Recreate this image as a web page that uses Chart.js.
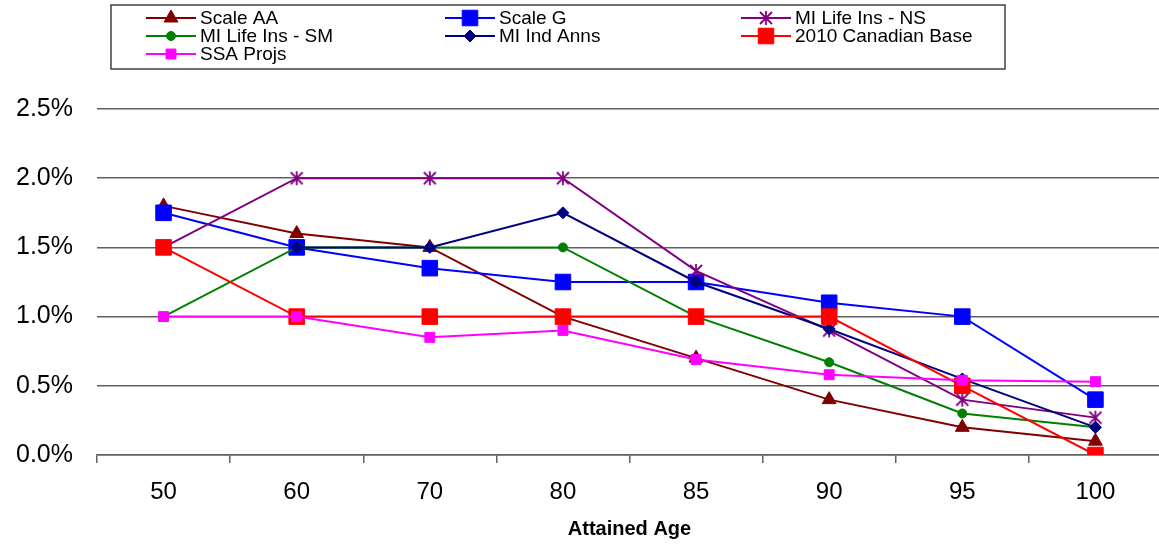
<!DOCTYPE html>
<html lang="en">
<head>
    <meta charset="UTF-8">
    <title>Mortality Improvement by Attained Age</title>
    <script src="https://cdn.jsdelivr.net/npm/chart.js"></script>
    <style>
        html, body {
            margin: 0;
            padding: 0;
            background: #fff;
            overflow: hidden;
        }
        #wrap {
            width: 1174px;
            height: 546px;
        }
    </style>
</head>
<body>

<div id="wrap"><canvas id="chart"></canvas></div>

<script>
    // data (percent)
    const ages = ['50', '60', '70', '80', '85', '90', '95', '100'];
    const scaleAA = [1.8, 1.6, 1.5, 1.0, 0.7, 0.4, 0.2, 0.1];
    const scaleG = [1.75, 1.5, 1.35, 1.25, 1.25, 1.1, 1.0, 0.4];
    const miLifeNS = [1.5, 2.0, 2.0, 2.0, 1.33, 0.9, 0.4, 0.27];
    const miLifeSM = [1.0, 1.5, 1.5, 1.5, 1.0, 0.67, 0.3, 0.2];
    const miIndAnns = [null, 1.5, 1.5, 1.75, 1.25, 0.91, 0.55, 0.2];
    const canadian2010 = [1.5, 1.0, 1.0, 1.0, 1.0, 1.0, 0.5, 0.0];
    const ssaProjs = [1.0, 1.0, 0.85, 0.9, 0.69, 0.58, 0.54, 0.53];
    const yTicks = [0, 0.5, 1.0, 1.5, 2.0, 2.5];

    const FONT = "'Liberation Sans', Arial, sans-serif";

    // excel-style asterisk marker (x with a vertical bar)
    function asterisk(color) {
        const c = document.createElement('canvas');
        c.width = 16;
        c.height = 16;
        const g = c.getContext('2d');
        g.strokeStyle = color;
        g.lineWidth = 1.8;
        g.beginPath();
        g.moveTo(2, 2); g.lineTo(14, 14);
        g.moveTo(14, 2); g.lineTo(2, 14);
        g.moveTo(8, 1); g.lineTo(8, 15);
        g.stroke();
        return c;
    }

    function series(label, data, color, style, radius, order) {
        return {
            label: label,
            data: data,
            borderColor: color,
            backgroundColor: color,
            pointBackgroundColor: color,
            pointBorderColor: color,
            borderWidth: 2,
            pointStyle: style,
            pointRadius: radius,
            pointBorderWidth: 1,
            tension: 0,
            spanGaps: false,
            order: order
        };
    }

    const datasets = [
        series('Scale AA', scaleAA, '#800000', 'triangle', 8, 7),
        series('Scale G', scaleG, '#0000ff', 'rect', 11, 6),
        series('MI Life Ins - NS', miLifeNS, '#800080', asterisk('#800080'), 7, 5),
        series('MI Life Ins - SM', miLifeSM, '#008000', 'circle', 4.5, 4),
        series('MI Ind Anns', miIndAnns, '#000080', 'rectRot', 6, 3),
        series('2010 Canadian Base', canadian2010, '#ff0000', 'rect', 11, 2),
        series('SSA Projs', ssaProjs, '#ff00ff', 'rect', 7, 1)
    ];

    // boxed legend in three columns, like the original
    const boxLegend = {
        id: 'boxLegend',
        afterDraw(chart) {
            const ctx = chart.ctx;
            const cols = [146, 445, 741];
            const rows = [18, 36, 54];
            ctx.save();
            ctx.strokeStyle = '#404040';
            ctx.lineWidth = 1.5;
            ctx.strokeRect(111, 5, 894, 64);
            ctx.font = '19px ' + FONT;
            ctx.textBaseline = 'middle';
            ctx.textAlign = 'left';
            chart.data.datasets.forEach((ds, i) => {
                const x = cols[i % 3];
                const y = rows[Math.floor(i / 3)];
                ctx.strokeStyle = ds.borderColor;
                ctx.lineWidth = 2;
                ctx.beginPath();
                ctx.moveTo(x, y);
                ctx.lineTo(x + 50, y);
                ctx.stroke();
                ctx.fillStyle = ds.backgroundColor;
                ctx.strokeStyle = ds.borderColor;
                ctx.lineWidth = ds.pointBorderWidth;
                Chart.helpers.drawPoint(ctx, {
                    pointStyle: ds.pointStyle,
                    radius: ds.pointRadius,
                    borderWidth: ds.pointBorderWidth,
                    rotation: 0
                }, x + 25, y);
                ctx.fillStyle = '#000';
                ctx.fillText(ds.label, x + 54, y + 1);
            });
            ctx.restore();
        }
    };

    new Chart(document.getElementById('chart'), {
        type: 'line',
        data: {
            labels: ages,
            datasets: datasets
        },
        options: {
            responsive: true,
            maintainAspectRatio: false,
            animation: false,
            layout: {
                padding: { top: 109, right: 0, left: 0, bottom: 0 }
            },
            plugins: {
                legend: { display: false },
                tooltip: { enabled: false }
            },
            scales: {
                x: {
                    offset: true,
                    grid: {
                        offset: true,
                        drawOnChartArea: false,
                        drawTicks: true,
                        tickLength: 8,
                        color: '#606060',
                        lineWidth: 1.5
                    },
                    border: { display: true, color: '#606060', width: 1.5 },
                    ticks: {
                        color: '#000',
                        padding: 15,
                        font: { family: FONT, size: 24 }
                    },
                    title: {
                        display: true,
                        text: 'Attained Age',
                        color: '#000',
                        padding: { top: 0, bottom: 5 },
                        font: { family: FONT, size: 20, weight: 'bold' }
                    },
                    afterFit(scale) { scale.height = 91; }
                },
                y: {
                    min: 0,
                    max: 2.5,
                    afterBuildTicks(scale) {
                        scale.ticks = yTicks.map(v => ({ value: v }));
                    },
                    grid: {
                        drawTicks: false,
                        color: '#606060',
                        lineWidth: 1.5
                    },
                    border: { display: false },
                    ticks: {
                        color: '#000',
                        padding: 24,
                        font: { family: FONT, size: 25 },
                        callback: v => v.toFixed(1) + '%'
                    },
                    afterFit(scale) { scale.width = 97; }
                }
            }
        },
        plugins: [boxLegend]
    });
</script>

</body>
</html>
